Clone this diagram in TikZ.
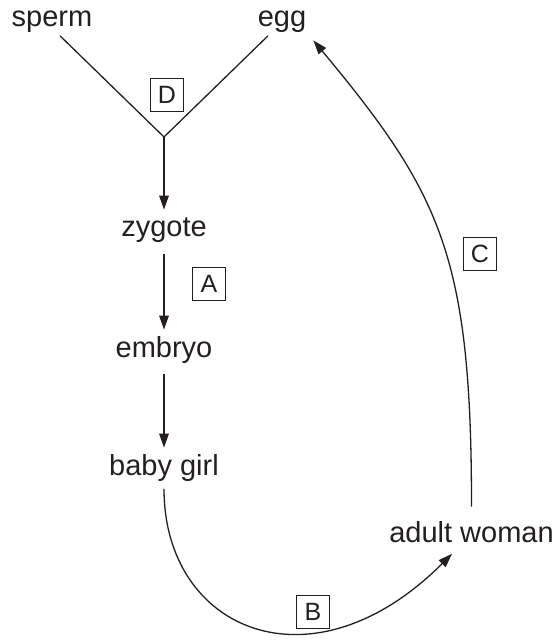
\documentclass[tikz,border=0pt]{standalone}
\usepackage{fontspec}
\setmainfont{Liberation Sans}
\usetikzlibrary{arrows.meta}
\definecolor{ink}{HTML}{231F20}
\begin{document}
\begin{tikzpicture}[x=0.5pt,y=-0.5pt,
  link/.style={draw=ink,line width=0.65pt},
  lbl/.style={text=ink,font=\fontsize{14.5pt}{16pt}\selectfont,
    text height=0.75em,text depth=0.22em,inner sep=6pt,anchor=base},
  toplbl/.style={lbl,inner sep=2pt},
  letterbox/.style={draw=ink,line width=0.5pt,text=ink,minimum size=16.5pt,
    inner sep=0pt,font=\fontsize{12.5pt}{14pt}\selectfont},
  arr/.style={link,-{Triangle[length=7pt,width=4.8pt]}}]
\useasboundingbox (0,0) rectangle (560,640);

% stages of the life cycle
\node[toplbl] (sperm) at (52,27) {sperm};
\node[toplbl] (egg) at (282,27) {egg};
\node[lbl] (zygote) at (164,237) {zygote};
\node[lbl] (embryo) at (164,357) {embryo};
\node[lbl] (baby) at (164,475) {baby girl};
\node[lbl] (adult) at (471.5,542) {adult woman};
\coordinate (join) at (164,137);

% fertilisation
\draw[link] ([xshift=4pt]sperm.south) -- (join);
\draw[link] ([xshift=-7pt]egg.south) -- (join);
\draw[arr] (join) -- (zygote.north);

% development
\draw[arr] (zygote) -- (embryo);
\draw[arr] (embryo) -- (baby);

% growth and ovulation
\draw[arr] ([yshift=1.5pt]baby.south) .. controls +(0,142) and +(-140,140) .. ([xshift=-9.75pt,yshift=2.5pt]adult.south);
\draw[arr] ([yshift=4pt]adult.north) .. controls +(0,-250) and +(128,154) .. ([xshift=1.4pt,yshift=-2.3pt]egg.south east);

% stage labels
\node[letterbox] (D) at (167,95) {D};
\node[letterbox] (A) at (209,284) {A};
\node[letterbox] (C) at (480,254) {C};
\node[letterbox] (B) at (313,612) {B};
\end{tikzpicture}
\end{document}
